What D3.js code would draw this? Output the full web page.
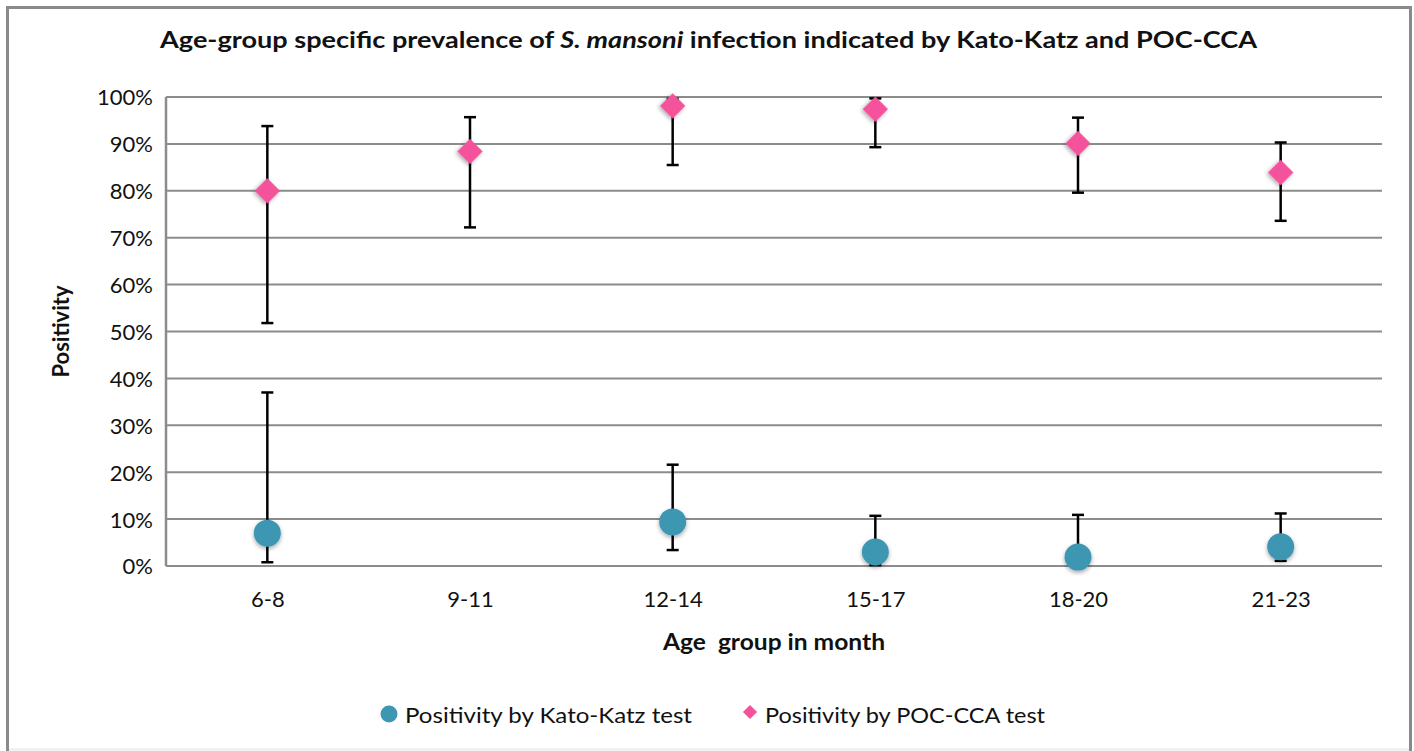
<!DOCTYPE html>
<html>
<head>
<meta charset="utf-8">
<script src="https://cdn.jsdelivr.net/npm/d3@7"></script>
<style>
  body { margin: 0; background: #fff; }
  text { font-family: Lato, "Open Sans", sans-serif; fill: #111; }
</style>
</head>
<body>
<div id="chart"></div>
<script>
// age groups (months)
const ageGroups = ["6-8", "9-11", "12-14", "15-17", "18-20", "21-23"];

// Kato-Katz positivity (%) with 95% CI; no value for 9-11
const kkValue = [7.0, null, 9.4, 3.0, 1.9, 4.1];
const kkLow = [0.8, null, 3.4, 0.2, 0.1, 1.1];
const kkHigh = [37.0, null, 21.6, 10.7, 10.9, 11.2];

// POC-CCA positivity (%) with 95% CI
const pocValue = [80.0, 88.4, 98.1, 97.4, 90.1, 83.9];
const pocLow = [51.8, 72.2, 85.5, 89.3, 79.6, 73.6];
const pocHigh = [93.8, 95.7, 99.6, 99.7, 95.6, 90.3];

const yTicks = [0, 10, 20, 30, 40, 50, 60, 70, 80, 90, 100];

const W = 1414, H = 751;
const margin = { top: 97, right: 32, bottom: 185, left: 166 };
const innerW = W - margin.left - margin.right;
const innerH = H - margin.top - margin.bottom;

const blue = "#3d97b3";
const pink = "#f4529b";

const svg = d3.select("#chart").append("svg")
  .attr("width", W)
  .attr("height", H);

// drop shadow for markers
const defs = svg.append("defs");
defs.append("filter")
  .attr("id", "shadow")
  .attr("x", "-50%").attr("y", "-50%")
  .attr("width", "200%").attr("height", "200%")
  .append("feDropShadow")
  .attr("dx", 0).attr("dy", 2)
  .attr("stdDeviation", 2)
  .attr("flood-color", "#000")
  .attr("flood-opacity", 0.35);

// outer frame
svg.append("rect")
  .attr("x", 7.5).attr("y", 7.5)
  .attr("width", 1403).attr("height", 800)
  .attr("fill", "none")
  .attr("stroke", "#8a8a8a")
  .attr("stroke-width", 3);
svg.append("line")
  .attr("x1", 9).attr("x2", 1409)
  .attr("y1", 749.5).attr("y2", 749.5)
  .attr("stroke", "#ececec").attr("stroke-width", 2);

// title with italic species name (stretched like the original)
const title = svg.append("text")
  .attr("x", 160).attr("y", 48)
  .attr("font-size", 22)
  .attr("font-weight", 700)
  .attr("textLength", 1097)
  .attr("lengthAdjust", "spacingAndGlyphs");
title.append("tspan").text("Age-group specific prevalence of ");
title.append("tspan").attr("font-style", "italic").text("S. mansoni");
title.append("tspan").text(" infection indicated by Kato-Katz and POC-CCA");

const g = svg.append("g")
  .attr("transform", `translate(${margin.left},${margin.top})`);

const x = d3.scalePoint()
  .domain(ageGroups)
  .range([0, innerW])
  .padding(0.5);

const y = d3.scaleLinear()
  .domain([0, 100])
  .range([innerH, 0]);

// gridlines
g.selectAll(".grid")
  .data(yTicks)
  .enter()
  .append("line")
  .attr("class", "grid")
  .attr("x1", 0).attr("x2", innerW)
  .attr("y1", d => y(d)).attr("y2", d => y(d))
  .attr("stroke", "#8c8c8c")
  .attr("stroke-width", 2);

// left axis line
g.append("line")
  .attr("x1", 0).attr("x2", 0)
  .attr("y1", 0).attr("y2", innerH)
  .attr("stroke", "#8c8c8c")
  .attr("stroke-width", 2.5);

// y axis labels
const yAxis = g.append("g")
  .attr("transform", "translate(-10,0)")
  .call(d3.axisLeft(y).tickValues(yTicks).tickSize(0).tickFormat(d => d + "%"));
yAxis.select(".domain").remove();
yAxis.selectAll("text")
  .attr("font-size", 22)
  .attr("font-family", "Lato, sans-serif")
  .attr("fill", "#111")
  .attr("dy", "0.36em");

// x axis labels
const xAxis = g.append("g")
  .attr("transform", `translate(0,${innerH + 22})`)
  .call(d3.axisBottom(x).tickSize(0));
xAxis.select(".domain").remove();
xAxis.selectAll("text")
  .attr("font-size", 22)
  .attr("font-family", "Lato, sans-serif")
  .attr("fill", "#111");

// axis titles
svg.append("text")
  .attr("x", 663)
  .attr("y", 650)
  .attr("font-size", 22)
  .attr("font-weight", 700)
  .attr("textLength", 222)
  .attr("lengthAdjust", "spacingAndGlyphs")
  .style("white-space", "pre")
  .text("Age  group in month");

svg.append("text")
  .attr("transform", `translate(69,${margin.top + innerH / 2}) rotate(-90)`)
  .attr("text-anchor", "middle")
  .attr("font-size", 22)
  .attr("font-weight", 700)
  .text("Positivity");

// build series rows
function rows(vals, lows, highs) {
  return ageGroups.map((a, i) => ({ age: a, v: vals[i], lo: lows[i], hi: highs[i] }))
    .filter(d => d.v !== null);
}
const kkRows = rows(kkValue, kkLow, kkHigh);
const pocRows = rows(pocValue, pocLow, pocHigh);

// error bars
function drawErrors(data) {
  const eb = g.append("g")
    .selectAll("g")
    .data(data)
    .enter()
    .append("g")
    .attr("stroke", "#000")
    .attr("stroke-width", 2.5);
  eb.append("line")
    .attr("x1", d => x(d.age)).attr("x2", d => x(d.age))
    .attr("y1", d => y(d.lo)).attr("y2", d => y(d.hi));
  eb.append("line")
    .attr("x1", d => x(d.age) - 6).attr("x2", d => x(d.age) + 6)
    .attr("y1", d => y(d.hi)).attr("y2", d => y(d.hi));
  eb.append("line")
    .attr("x1", d => x(d.age) - 6).attr("x2", d => x(d.age) + 6)
    .attr("y1", d => y(d.lo)).attr("y2", d => y(d.lo));
}
drawErrors(kkRows);
drawErrors(pocRows);

// markers
g.append("g")
  .selectAll("circle")
  .data(kkRows)
  .enter()
  .append("circle")
  .attr("cx", d => x(d.age))
  .attr("cy", d => y(d.v))
  .attr("r", 13.5)
  .attr("fill", blue)
  .attr("filter", "url(#shadow)");

const diamond = d3.symbol().type(d3.symbolSquare).size(320);
g.append("g")
  .selectAll("path")
  .data(pocRows)
  .enter()
  .append("path")
  .attr("d", diamond)
  .attr("transform", d => `translate(${x(d.age)},${y(d.v)}) rotate(45)`)
  .attr("fill", pink)
  .attr("filter", "url(#shadow)");

// legend
const legend = svg.append("g").attr("transform", "translate(0,715)");
legend.append("circle")
  .attr("cx", 389).attr("cy", -1).attr("r", 8.5)
  .attr("fill", blue);
legend.append("text")
  .attr("x", 405).attr("y", 0).attr("dy", "0.35em")
  .attr("font-size", 22)
  .attr("textLength", 287)
  .attr("lengthAdjust", "spacingAndGlyphs")
  .text("Positivity by Kato-Katz test");
legend.append("path")
  .attr("d", d3.symbol().type(d3.symbolSquare).size(100))
  .attr("transform", "translate(750,-3) rotate(45)")
  .attr("fill", pink);
legend.append("text")
  .attr("x", 765).attr("y", 0).attr("dy", "0.35em")
  .attr("font-size", 22)
  .attr("textLength", 280)
  .attr("lengthAdjust", "spacingAndGlyphs")
  .text("Positivity by POC-CCA test");
</script>
</body>
</html>
